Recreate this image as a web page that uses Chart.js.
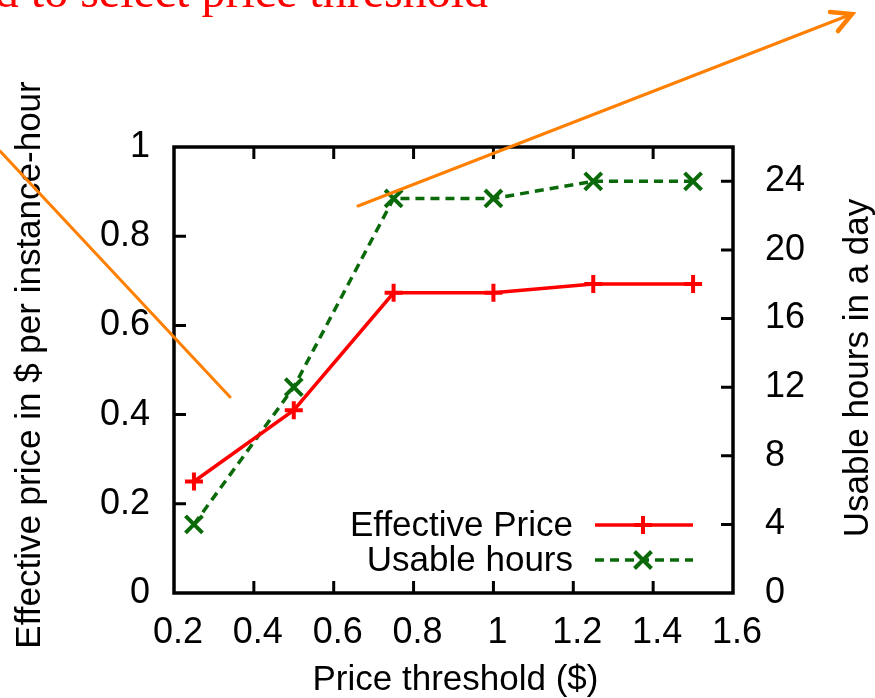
<!DOCTYPE html>
<html>
<head>
<meta charset="utf-8">
<script src="https://cdn.jsdelivr.net/npm/chart.js@4.4.0/dist/chart.umd.min.js"></script>
<style>
  html, body { margin: 0; padding: 0; background: #fff; }
  canvas { display: block; }
</style>
</head>
<body>
<canvas id="grafico" width="875" height="698"></canvas>
<script>
// datos
const umbrales = [0.25, 0.5, 0.75, 1.0, 1.25, 1.5];
const precioEfectivo = [0.25, 0.41, 0.673, 0.673, 0.693, 0.693];
const horasUsables = [4, 12, 23, 23, 24, 24];

const ticksX = [0.2, 0.4, 0.6, 0.8, 1, 1.2, 1.4, 1.6];
const ticksY = [0, 0.2, 0.4, 0.6, 0.8, 1];
const ticksY2 = [0, 4, 8, 12, 16, 20, 24];

const fuente = '"Liberation Sans", Arial, Helvetica, sans-serif';
const rojo = '#ff0000';
const verde = '#0a6a0a';
const naranja = '#ff8000';

const ponerTicks = lista => scale => {
    scale.ticks = lista.map(v => ({ value: v }));
};

// marco, ticks hacia dentro, titulos, leyenda y anotaciones
const extras = {
    id: 'extras',
    beforeDatasetsDraw(chart) {
        const ctx = chart.ctx;
        const a = chart.chartArea;
        const { x, y, y2 } = chart.scales;
        const largo = 12;
        ctx.save();
        ctx.strokeStyle = '#000';
        ctx.lineWidth = 3;
        ctx.beginPath();
        x.ticks.forEach(t => {
            const px = x.getPixelForValue(t.value);
            if (px <= a.left + 1 || px >= a.right - 1) return;
            ctx.moveTo(px, a.bottom); ctx.lineTo(px, a.bottom - largo);
            ctx.moveTo(px, a.top); ctx.lineTo(px, a.top + largo);
        });
        y.ticks.forEach(t => {
            const py = y.getPixelForValue(t.value);
            if (py <= a.top + 1 || py >= a.bottom - 1) return;
            ctx.moveTo(a.left, py); ctx.lineTo(a.left + largo, py);
        });
        y2.ticks.forEach(t => {
            const py = y2.getPixelForValue(t.value);
            if (py <= a.top + 1 || py >= a.bottom - 1) return;
            ctx.moveTo(a.right, py); ctx.lineTo(a.right - largo, py);
        });
        ctx.stroke();
        ctx.lineWidth = 3.5;
        ctx.strokeRect(a.left, a.top, a.right - a.left, a.bottom - a.top);
        ctx.restore();
    },
    afterDraw(chart) {
        const ctx = chart.ctx;
        const a = chart.chartArea;
        ctx.save();
        ctx.fillStyle = '#000';
        ctx.font = '35px ' + fuente;
        ctx.textAlign = 'center';
        ctx.textBaseline = 'middle';

        // titulos de ejes
        ctx.fillText('Price threshold ($)', (a.left + a.right) / 2 + 2, 680);
        ctx.save();
        ctx.translate(30, (a.top + a.bottom) / 2 - 5);
        ctx.rotate(-Math.PI / 2);
        ctx.fillText('Effective price in $ per instance-hour', 0, 0);
        ctx.restore();
        ctx.save();
        ctx.translate(858, (a.top + a.bottom) / 2 - 2);
        ctx.rotate(-Math.PI / 2);
        ctx.fillText('Usable hours in a day', 0, 0);
        ctx.restore();

        // leyenda
        ctx.textAlign = 'right';
        chart.data.datasets.forEach((ds, i) => {
            const yy = 525 + i * 35;
            ctx.fillStyle = '#000';
            ctx.fillText(ds.label, 573, yy + 1);
            ctx.strokeStyle = ds.borderColor;
            ctx.lineWidth = ds.borderWidth;
            ctx.setLineDash(ds.borderDash || []);
            ctx.beginPath();
            ctx.moveTo(595, yy); ctx.lineTo(693, yy);
            ctx.stroke();
            ctx.setLineDash([]);
            ctx.lineWidth = ds.pointBorderWidth;
            Chart.helpers.drawPoint(ctx, {
                pointStyle: ds.pointStyle,
                radius: ds.pointRadius,
                rotation: 0,
                borderWidth: ds.pointBorderWidth
            }, 643, yy);
        });

        // anotaciones de la diapositiva
        ctx.strokeStyle = naranja;
        ctx.lineWidth = 3;
        ctx.lineCap = 'round';
        ctx.beginPath();
        ctx.moveTo(358, 206); ctx.lineTo(852, 14);
        ctx.moveTo(0, 151); ctx.lineTo(230, 397);
        ctx.stroke();
        ctx.lineWidth = 4.5;
        ctx.beginPath();
        ctx.moveTo(830, 12); ctx.lineTo(852, 14); ctx.lineTo(838, 31);
        ctx.stroke();

        ctx.fillStyle = rojo;
        ctx.font = '48px "Liberation Serif", "Times New Roman", serif';
        ctx.textAlign = 'right';
        ctx.textBaseline = 'alphabetic';
        ctx.fillText('Need to select price threshold', 488, 7);
        ctx.restore();
    }
};

new Chart(document.getElementById('grafico'), {
    type: 'line',
    data: {
        datasets: [{
            label: 'Effective Price',
            data: umbrales.map((u, i) => ({ x: u, y: precioEfectivo[i] })),
            yAxisID: 'y',
            borderColor: rojo,
            backgroundColor: rojo,
            borderWidth: 3.5,
            pointStyle: 'cross',
            pointRadius: 9,
            pointBorderWidth: 4,
            pointBorderColor: rojo,
            tension: 0
        }, {
            label: 'Usable hours',
            data: umbrales.map((u, i) => ({ x: u, y: horasUsables[i] })),
            yAxisID: 'y2',
            borderColor: verde,
            backgroundColor: verde,
            borderWidth: 3.5,
            borderDash: [9, 6],
            pointStyle: 'crossRot',
            pointRadius: 12,
            pointBorderWidth: 4,
            pointBorderColor: verde,
            tension: 0
        }]
    },
    options: {
        responsive: false,
        animation: false,
        layout: { padding: { top: 147, left: 0, right: 0, bottom: 0 } },
        plugins: {
            legend: { display: false },
            tooltip: { enabled: false },
            title: { display: false }
        },
        scales: {
            x: {
                type: 'linear',
                position: 'bottom',
                min: 0.2,
                max: 1.6,
                afterBuildTicks: ponerTicks(ticksX),
                afterFit: s => { s.height = 105; },
                grid: { display: false, drawTicks: false },
                border: { display: false },
                ticks: {
                    color: '#000',
                    font: { family: fuente, size: 36 },
                    padding: 18,
                    labelOffset: 4,
                    maxRotation: 0,
                    autoSkip: false,
                    callback: v => String(v)
                }
            },
            y: {
                type: 'linear',
                position: 'left',
                min: 0,
                max: 1,
                afterBuildTicks: ponerTicks(ticksY),
                afterFit: s => { s.width = 174; },
                grid: { display: false, drawTicks: false },
                border: { display: false },
                ticks: {
                    color: '#000',
                    font: { family: fuente, size: 36 },
                    padding: 24,
                    callback: v => String(v)
                }
            },
            y2: {
                type: 'linear',
                position: 'right',
                min: 0,
                max: 26,
                afterBuildTicks: ponerTicks(ticksY2),
                afterFit: s => { s.width = 142; },
                grid: { display: false, drawTicks: false },
                border: { display: false },
                ticks: {
                    color: '#000',
                    font: { family: fuente, size: 36 },
                    padding: 32,
                    callback: v => String(v)
                }
            }
        }
    },
    plugins: [extras]
});
</script>
</body>
</html>
